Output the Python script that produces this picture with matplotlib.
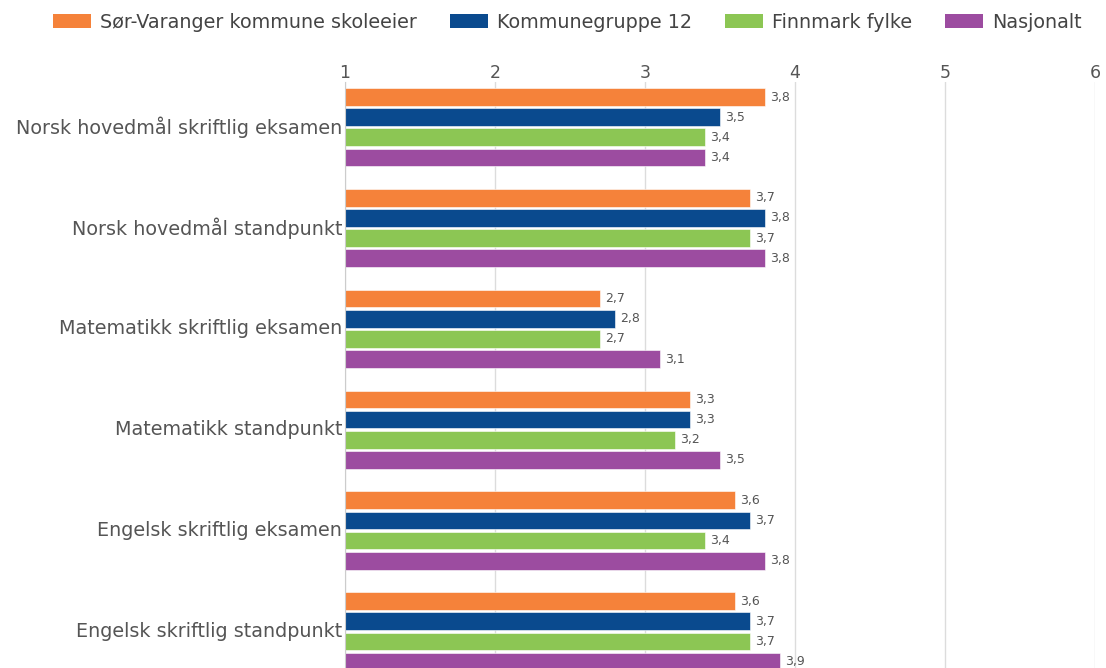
import matplotlib.pyplot as plt
import numpy as np
from matplotlib.patches import Patch

categories = [
    "Norsk hovedmål skriftlig eksamen",
    "Norsk hovedmål standpunkt",
    "Matematikk skriftlig eksamen",
    "Matematikk standpunkt",
    "Engelsk skriftlig eksamen",
    "Engelsk skriftlig standpunkt",
]
series_names = [
    "Sør-Varanger kommune skoleeier",
    "Kommunegruppe 12",
    "Finnmark fylke",
    "Nasjonalt",
]
sor_varanger = [3.8, 3.7, 2.7, 3.3, 3.6, 3.6]
kommunegruppe = [3.5, 3.8, 2.8, 3.3, 3.7, 3.7]
finnmark = [3.4, 3.7, 2.7, 3.2, 3.4, 3.7]
nasjonalt = [3.4, 3.8, 3.1, 3.5, 3.8, 3.9]
x_ticks = [1, 2, 3, 4, 5, 6]

colors = ["#f5823a", "#0a4a8e", "#8cc654", "#9c4ca0"]
text_grey = "#555555"

fig = plt.figure(figsize=(11.06, 6.68), dpi=100)
ax = fig.add_axes([345 / 1106, 0.0, 750 / 1106, 1 - 82 / 668])

group_step = 5
bar_h = 0.88
base = np.arange(len(categories)) * group_step
all_series = [sor_varanger, kommunegruppe, finnmark, nasjonalt]

for j, (vals, col) in enumerate(zip(all_series, colors)):
    vals = np.asarray(vals)
    ypos = base + j
    ax.barh(ypos, vals - 1, left=1, height=bar_h, color=col,
            edgecolor="white", linewidth=0.4, zorder=3)
    for y, v in zip(ypos, vals):
        ax.text(v + 0.035, y, f"{v:.1f}".replace(".", ","), va="center",
                ha="left", fontsize=9, color=text_grey, zorder=4)

ax.set_xlim(1, 6)
ax.set_ylim(28.32, -0.744)
ax.set_xticks(x_ticks)
ax.xaxis.tick_top()
ax.tick_params(axis="x", length=0, pad=0, labelsize=12.5, labelcolor=text_grey)
ax.set_yticks(base + 1.4)
ax.set_yticklabels(categories)
ax.tick_params(axis="y", length=0, pad=2, labelsize=13.8, labelcolor=text_grey)

ax.grid(axis="x", color="#dcdcdc", linewidth=1, zorder=0)
for side in ["top", "right", "bottom"]:
    ax.spines[side].set_visible(False)
ax.spines["left"].set_color("#cccccc")
ax.spines["left"].set_zorder(5)

handles = [Patch(facecolor=c, edgecolor="none") for c in colors]
fig.legend(handles, series_names, loc="center left",
           bbox_to_anchor=(53 / 1106, 1 - 22 / 668), ncol=4, frameon=False,
           fontsize=13.8, handlelength=1.98, handleheight=0.78,
           handletextpad=0.47, columnspacing=1.72, labelcolor="#444444",
           borderaxespad=0, borderpad=0)

fig.savefig("out.png", dpi=100)
